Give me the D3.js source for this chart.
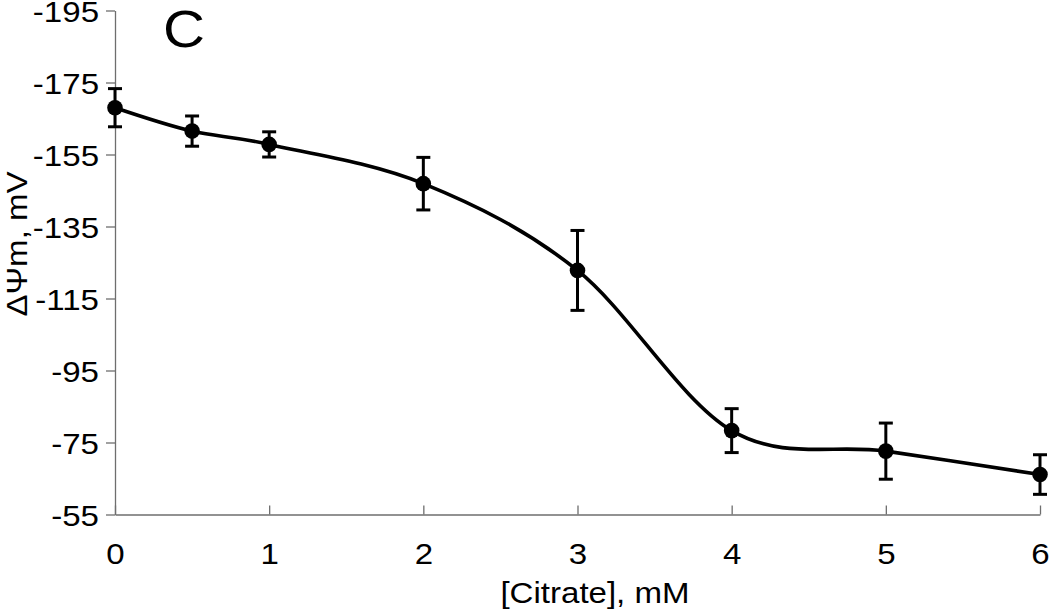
<!DOCTYPE html>
<html lang="en">
<head>
<meta charset="UTF-8">
<title>Citrate membrane potential</title>
<script src="https://cdn.jsdelivr.net/npm/d3@7"></script>
<style>
    body { margin: 0; background: #fff; }
    svg { display: block; }
    text { font-family: "Liberation Sans", Arial, sans-serif; fill: #000; }
    .axis path, .axis line { stroke: #6e6e6e; stroke-width: 1.3px; }
    .axis text { font-size: 29px; }
</style>
</head>
<body>
<script>
// data
var citrate = [0, 0.5, 1, 2, 3, 4, 5, 6];
var psi     = [-168.0, -161.5, -157.8, -146.9, -122.8, -78.3, -72.6, -66.1];
var err     = [5.3, 4.2, 3.5, 7.3, 11.1, 6.1, 7.8, 5.5];

var xTicks = [0, 1, 2, 3, 4, 5, 6];
var yTicks = [-55, -75, -95, -115, -135, -155, -175, -195];

var width = 1050, height = 612;
var mLeft = 115, mRight = 1040, mTop = 10.5, mBottom = 514.5;
var sx = 1.14; // the source lettering is a bit wider than Arial

var svg = d3.select("body").append("svg")
    .attr("width", width)
    .attr("height", height);

var x = d3.scaleLinear().domain([0, 6]).range([mLeft, mRight]);
var y = d3.scaleLinear().domain([-55, -195]).range([mBottom, mTop]);

// widen text horizontally around its own x position
function stretch(sel) {
    sel.each(function () {
        var t = d3.select(this);
        var tx = +t.attr("x") || 0;
        t.attr("x", tx / sx).attr("transform", "scale(" + sx + ",1)");
    });
}

// y axis, ticks outside
var gy = svg.append("g")
    .attr("class", "axis")
    .attr("transform", "translate(" + mLeft + ",0)")
    .call(d3.axisLeft(y).tickValues(yTicks).tickSize(9).tickSizeOuter(0).tickPadding(7)
        .tickFormat(function (d) { return String(d); }));
gy.selectAll("text").attr("dy", "0.37em").call(stretch);

// x axis, ticks pointing up into the plot
var gx = svg.append("g")
    .attr("class", "axis")
    .attr("transform", "translate(0," + mBottom + ")")
    .call(d3.axisBottom(x).tickValues(xTicks).tickSize(-9).tickSizeOuter(0)
        .tickFormat(d3.format("d")));
gx.selectAll("text").attr("y", 50).attr("dy", 0).call(stretch);

// axis titles
svg.append("text")
    .attr("x", 595).attr("y", 603)
    .attr("text-anchor", "middle")
    .style("font-size", "29px")
    .text("[Citrate], mM")
    .call(stretch);

svg.append("text")
    .attr("transform", "translate(27,244) rotate(-90) scale(" + sx + ",1)")
    .attr("text-anchor", "middle")
    .style("font-size", "29px")
    .text("ΔΨm, mV");

// panel letter
svg.append("text")
    .attr("x", 163).attr("y", 47)
    .style("font-size", "51px")
    .text("C")
    .call(stretch);

var pts = citrate.map(function (c, i) { return { x: c, y: psi[i], e: err[i] }; });

// smoothed line
var line = d3.line()
    .x(function (d) { return x(d.x); })
    .y(function (d) { return y(d.y); })
    .curve(d3.curveCardinal.tension(0));

svg.append("path")
    .datum(pts)
    .attr("d", line)
    .attr("fill", "none")
    .attr("stroke", "#000")
    .attr("stroke-width", 3.6);

// error bars
var eb = svg.append("g").attr("stroke", "#000").attr("stroke-width", 3);
eb.selectAll(".bar").data(pts).enter().append("line")
    .attr("x1", function (d) { return x(d.x); })
    .attr("x2", function (d) { return x(d.x); })
    .attr("y1", function (d) { return y(d.y - d.e); })
    .attr("y2", function (d) { return y(d.y + d.e); });
eb.selectAll(".capTop").data(pts).enter().append("line")
    .attr("x1", function (d) { return x(d.x) - 7; })
    .attr("x2", function (d) { return x(d.x) + 7; })
    .attr("y1", function (d) { return y(d.y - d.e); })
    .attr("y2", function (d) { return y(d.y - d.e); });
eb.selectAll(".capBot").data(pts).enter().append("line")
    .attr("x1", function (d) { return x(d.x) - 7; })
    .attr("x2", function (d) { return x(d.x) + 7; })
    .attr("y1", function (d) { return y(d.y + d.e); })
    .attr("y2", function (d) { return y(d.y + d.e); });

// markers
svg.selectAll(".dot").data(pts).enter().append("circle")
    .attr("cx", function (d) { return x(d.x); })
    .attr("cy", function (d) { return y(d.y); })
    .attr("r", 7.8)
    .attr("fill", "#000");
</script>
</body>
</html>
